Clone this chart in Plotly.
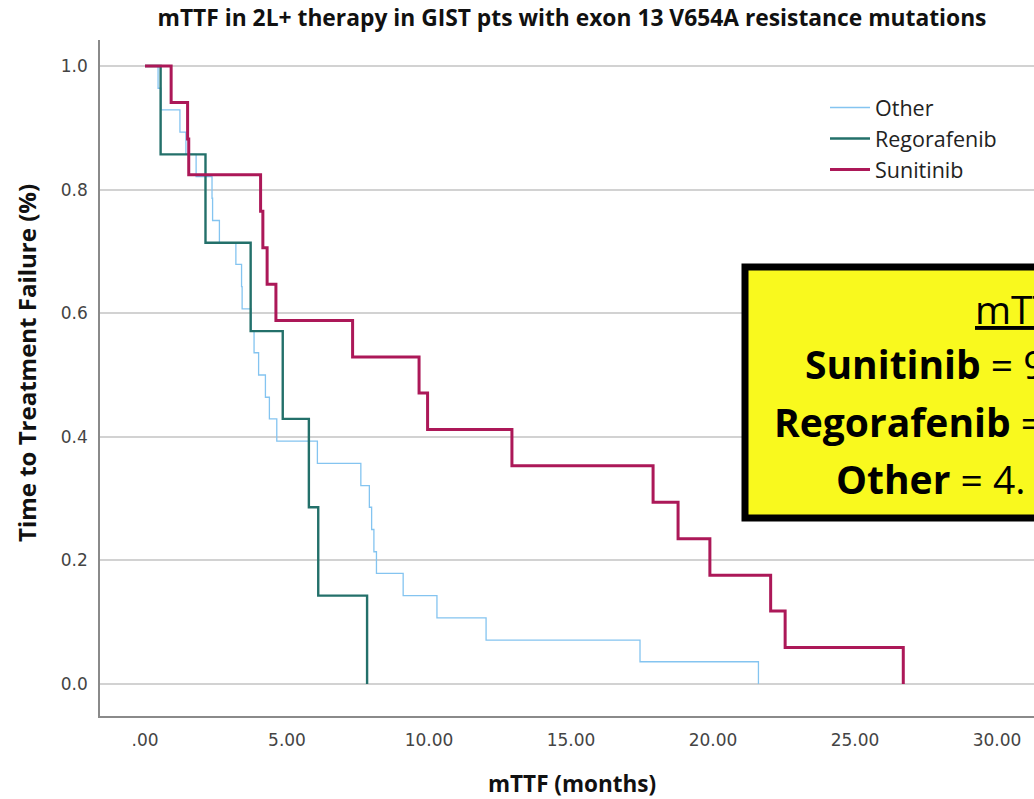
import plotly.graph_objects as go

# Kaplan-Meier step data: time to treatment failure (months) and fraction still on treatment
other_t = [0, 0.46, 0.56, 1.23, 1.44, 1.80, 2.36, 2.38, 2.62, 3.20, 3.40, 3.42, 3.73, 3.84,
           4.00, 4.24, 4.38, 4.64, 6.07, 7.60, 7.90, 7.98, 8.06, 8.15, 9.09, 10.28, 12.01,
           17.43, 21.60]
other_s = [1.0, 0.964, 0.929, 0.893, 0.857, 0.821, 0.786, 0.750, 0.714, 0.679, 0.643, 0.607,
           0.571, 0.536, 0.500, 0.464, 0.429, 0.393, 0.357, 0.321, 0.286, 0.250, 0.214, 0.179,
           0.143, 0.107, 0.071, 0.036, 0.0]

rego_t = [0, 0.55, 2.13, 3.72, 4.85, 5.77, 6.10, 7.82]
rego_s = [1.0, 0.857, 0.714, 0.571, 0.429, 0.286, 0.143, 0.0]

suni_t = [0, 0.92, 1.50, 1.54, 4.07, 4.15, 4.30, 4.61, 7.31, 9.65, 9.95, 12.92, 17.89,
          18.77, 19.89, 22.03, 22.54, 26.70]
suni_s = [1.0, 0.941, 0.882, 0.824, 0.765, 0.706, 0.647, 0.588, 0.529, 0.471, 0.412, 0.353,
          0.294, 0.235, 0.176, 0.118, 0.059, 0.0]

x_tickvals = [0, 5, 10, 15, 20, 25, 30]
x_ticktext = [".00", "5.00", "10.00", "15.00", "20.00", "25.00", "30.00"]
y_tickvals = [0.0, 0.2, 0.4, 0.6, 0.8, 1.0]

series = [
    ("Other", other_t, other_s, "#84C4F0", 1.3),
    ("Regorafenib", rego_t, rego_s, "#23706A", 2.4),
    ("Sunitinib", suni_t, suni_s, "#AC1858", 3.0),
]

fig = go.Figure()
for name, t, s, color, width in series:
    fig.add_trace(go.Scatter(
        x=t, y=s, name=name, mode="lines",
        line=dict(color=color, width=width, shape="hv"),
    ))

W, H = 1034, 799
L, R, T, B = 100, 0, 40, 83
pw, ph = W - L - R, H - T - B


def px(x):
    return (x - L) / pw


def py(y):
    return (H - B - y) / ph


TEXT_FONT = "Open Sans"

fig.update_layout(
    width=W, height=H,
    margin=dict(l=L, r=R, t=T, b=B),
    plot_bgcolor="white", paper_bgcolor="white",
    showlegend=True,
    legend=dict(
        x=px(825), y=py(87), xanchor="left", yanchor="top",
        font=dict(family=TEXT_FONT, size=21.5, color="#222222"),
        bgcolor="rgba(0,0,0,0)", itemwidth=40,
    ),
    title=dict(
        text="<b>mTTF in 2L+ therapy in GIST pts with exon 13 V654A resistance mutations</b>",
        x=572 / W, xanchor="center", y=1 - 18 / H, yanchor="middle",
        font=dict(family=TEXT_FONT, size=22.8, color="#111111"),
    ),
    xaxis=dict(
        range=[(L - 145) / 28.4, (W - 145) / 28.4],
        tickvals=x_tickvals, ticktext=x_ticktext,
        showgrid=False, zeroline=False,
        showline=True, linecolor="#8a8a8a", linewidth=1.5,
        tickfont=dict(family="DejaVu Sans", size=17, color="#444444"),
        ticks="", ticklen=0, ticklabelstandoff=8,
    ),
    yaxis=dict(
        range=[(684 - 716) / 618, (684 - 40) / 618],
        tickvals=y_tickvals, tickformat=".1f",
        showgrid=True, gridcolor="#d2d2d2", gridwidth=2,
        zeroline=False,
        showline=True, linecolor="#8a8a8a", linewidth=1.5,
        tickfont=dict(family="DejaVu Sans", size=17, color="#444444"),
        ticks="", ticklen=0, ticklabelstandoff=7,
    ),
)

# axis titles
fig.add_annotation(
    text="<b>mTTF (months)</b>", xref="paper", yref="paper",
    x=px(572), y=py(783), xanchor="center", yanchor="middle", showarrow=False,
    font=dict(family=TEXT_FONT, size=22.5, color="#111111"),
)
fig.add_annotation(
    text="<b>Time to Treatment Failure (%)</b>", xref="paper", yref="paper",
    x=px(26), y=py(363), xanchor="center", yanchor="middle", showarrow=False,
    textangle=-90, font=dict(family=TEXT_FONT, size=24, color="#111111"),
)

# highlighted median summary box
fig.add_shape(
    type="rect", xref="paper", yref="paper",
    x0=px(745), x1=px(1200), y0=py(518), y1=py(267),
    fillcolor="#F9F91E", line=dict(color="black", width=7), layer="above",
)
box_lines = [
    ("<u>mTT</u>", 973, 308),
    ("<b>Sunitinib</b> = 9", 803, 363),
    ("<b>Regorafenib</b> =", 772, 421),
    ("<b>Other</b> = 4.", 834, 478),
]
for txt, x0, yc in box_lines:
    fig.add_annotation(
        text=txt, xref="paper", yref="paper", x=px(x0), y=py(yc),
        xanchor="left", yanchor="middle", showarrow=False,
        font=dict(family=TEXT_FONT, size=39, color="black"),
    )

fig.write_html("out.html", config={"displayModeBar": False})
